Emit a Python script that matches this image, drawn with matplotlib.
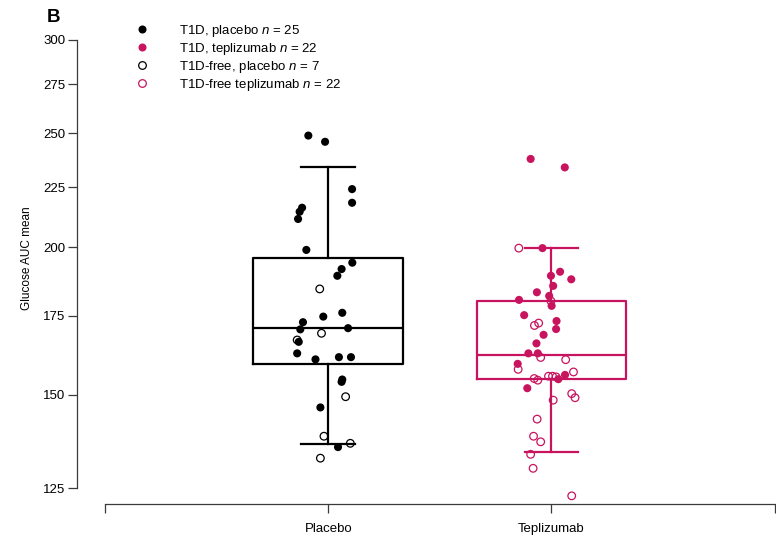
import matplotlib
matplotlib.use('Agg')
import matplotlib.pyplot as plt
from matplotlib.lines import Line2D
from matplotlib.ticker import NullLocator, FixedLocator, FixedFormatter
import numpy as np

plt.rcParams['font.family'] = ['Liberation Sans', 'DejaVu Sans']
plt.rcParams['mathtext.fontset'] = 'custom'
plt.rcParams['mathtext.it'] = 'Liberation Sans:italic'
plt.rcParams['mathtext.rm'] = 'Liberation Sans'

# ---------------- data ----------------
groups = ['Placebo', 'Teplizumab']
y_ticks = [125, 150, 175, 200, 225, 250, 275, 300]

# box statistics
box_q1 = [159.3, 154.7]
box_med = [170.8, 162.2]
box_q3 = [195.9, 180.1]
box_whislo = [136.2, 134.1]
box_whishi = [234.0, 199.7]

# T1D, placebo (filled black)
pl_t1d_val = [248.8, 245.8, 224.1, 218.2, 216.1, 214.4, 211.4, 199.0, 194.1, 191.7,
              189.2, 176.0, 174.7, 172.8, 170.4, 170.8, 166.3, 162.6, 160.7, 161.4,
              161.4, 154.5, 153.8, 146.3, 135.4]
pl_t1d_jit = [-0.089, -0.014, 0.107, 0.107, -0.117, -0.128, -0.135, -0.098, 0.108, 0.060,
              0.041, 0.063, -0.022, -0.113, -0.125, 0.089, -0.132, -0.139, -0.057, 0.048,
              0.102, 0.063, 0.060, -0.035, 0.044]
# T1D-free, placebo (open black)
pl_free_val = [184.4, 169.1, 166.9, 149.4, 138.3, 136.4, 132.5]
pl_free_jit = [-0.038, -0.030, -0.139, 0.078, -0.019, 0.099, -0.035]

# T1D, teplizumab (filled magenta)
tp_t1d_val = [237.7, 233.8, 199.7, 190.7, 189.2, 187.9, 185.5, 183.2, 181.9, 180.5,
              178.4, 175.2, 173.2, 170.5, 168.6, 165.8, 162.6, 162.6, 159.3, 155.9,
              154.6, 151.9]
tp_t1d_jit = [-0.093, 0.060, -0.040, 0.039, -0.002, 0.089, 0.008, -0.065, -0.010, -0.145,
              0.001, -0.122, 0.023, 0.021, -0.035, -0.067, -0.103, -0.061, -0.151, 0.061,
              0.031, -0.108]
# T1D-free, teplizumab (open magenta)
tp_free_val = [199.7, 180.1, 171.7, 172.5, 161.3, 160.6, 157.6, 156.8, 154.8, 154.3,
               155.5, 155.5, 155.3, 150.3, 149.1, 148.4, 143.0, 138.3, 136.8, 133.5,
               129.9, 123.1]
tp_free_jit = [-0.146, -0.002, -0.076, -0.057, -0.048, 0.064, -0.149, 0.099, -0.077, -0.061,
               -0.013, 0.005, 0.021, 0.091, 0.106, 0.008, -0.064, -0.080, -0.048, -0.093,
               -0.082, 0.091]

legend_labels = ['T1D, placebo $\\it{n}$ = 25',
                 'T1D, teplizumab $\\it{n}$ = 22',
                 'T1D-free, placebo $\\it{n}$ = 7',
                 'T1D-free teplizumab $\\it{n}$ = 22']

# ---------------- style ----------------
black = '#000000'
magenta = '#C8145E'
axis_col = '#3a3a3a'
W, H = 776, 538

fig = plt.figure(figsize=(W / 100, H / 100), dpi=100)
ax = fig.add_axes([77 / W, (H - 504) / H, (W - 77) / W, (504 - 30) / H])
ax.set_yscale('log')

positions = [1, 2]
colors = [black, magenta]
for i in range(2):
    st = [dict(med=box_med[i], q1=box_q1[i], q3=box_q3[i],
               whislo=box_whislo[i], whishi=box_whishi[i], fliers=[])]
    lp = dict(color=colors[i], lw=1.6)
    ax.bxp(st, positions=[positions[i]], widths=0.67, capwidths=0.24,
           showfliers=False, boxprops=lp, whiskerprops=lp, capprops=lp,
           medianprops=lp, manage_ticks=False, zorder=2)

ms = 34
ax.scatter(1 + np.array(pl_free_jit), pl_free_val, s=30, facecolors='none',
           edgecolors=black, linewidths=0.9, zorder=3)
ax.scatter(1 + np.array(pl_t1d_jit), pl_t1d_val, s=ms, facecolors=black,
           edgecolors='none', zorder=4)
ax.scatter(2 + np.array(tp_free_jit), tp_free_val, s=30, facecolors='none',
           edgecolors=magenta, linewidths=0.9, zorder=3)
ax.scatter(2 + np.array(tp_t1d_jit), tp_t1d_val, s=ms, facecolors=magenta,
           edgecolors='none', zorder=4)

# axes limits (log)
ylo = 125 * np.exp(-16 / 512)
yhi = 125 * np.exp(458 / 512)
ax.set_ylim(ylo, yhi)
ax.set_xlim(-28 / 223.2, (W - 105) / 223.2)

ax.yaxis.set_major_locator(FixedLocator(y_ticks))
ax.yaxis.set_major_formatter(FixedFormatter([str(t) for t in y_ticks]))
ax.yaxis.set_minor_locator(NullLocator())
ax.set_xticks([0, 1, 2, 3])
ax.set_xticklabels(['', groups[0], groups[1], ''])

for s in ['top', 'right']:
    ax.spines[s].set_visible(False)
ax.spines['left'].set_bounds(125, 300)
ax.spines['bottom'].set_bounds(0, 3)
for s in ['left', 'bottom']:
    ax.spines[s].set_color(axis_col)
    ax.spines[s].set_linewidth(0.9)
ax.tick_params(axis='y', length=6.5, width=0.9, color=axis_col, labelsize=9.5, pad=2)
ax.tick_params(axis='x', length=6.5, width=0.9, color=axis_col, labelsize=9.5, pad=7)
ax.patch.set_visible(False)

# legend
handles = [
    Line2D([], [], ls='none', marker='o', markersize=5.8, mfc=black, mec=black, mew=0),
    Line2D([], [], ls='none', marker='o', markersize=5.8, mfc=magenta, mec=magenta, mew=0),
    Line2D([], [], ls='none', marker='o', markersize=5.5, mfc='none', mec=black, mew=0.9),
    Line2D([], [], ls='none', marker='o', markersize=5.5, mfc='none', mec=magenta, mew=0.9),
]
fig.legend(handles, legend_labels, loc='upper left',
           bbox_to_anchor=(135.4 / W, 1 - 23 / H), frameon=False, fontsize=9.5,
           handlelength=1.0, handletextpad=2.3, labelspacing=0.15,
           borderpad=0, borderaxespad=0)

fig.text(27 / W, 1 - 258 / H, 'Glucose AUC mean', rotation=90, fontsize=8.5,
         ha='center', va='center')
fig.text(46.5 / W, 1 - 22 / H, 'B', fontsize=13.5, fontweight='bold', ha='left', va='baseline')

fig.savefig('out.png', dpi=100)
